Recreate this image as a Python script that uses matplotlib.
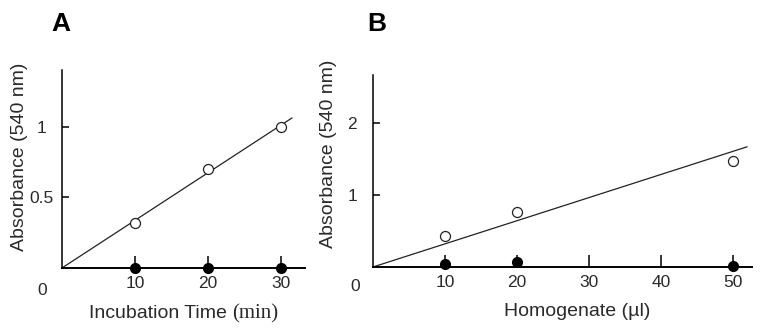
import numpy as np
import matplotlib.pyplot as plt

plt.rcParams['font.family'] = ['Liberation Sans', 'DejaVu Sans']

# Panel A data
time_min = [10, 20, 30]
abs_a_open = [0.32, 0.70, 1.00]
abs_a_closed = [0.0, 0.0, 0.0]
fit_a_x = [0, 31.5]
fit_a_y = [0, 1.06]

# Panel B data
homog_ul = [10, 20, 50]
abs_b_open = [0.43, 0.76, 1.48]
abs_b_closed = [0.04, 0.07, 0.02]
fit_b_x = [0, 51.9]
fit_b_y = [0, 1.67]

txt = '#2a2a2a'

fig = plt.figure(figsize=(7.6, 3.3), dpi=100)
axA = fig.add_axes([0.0816, 0.188, 0.3197, 0.60])
axB = fig.add_axes([0.4908, 0.191, 0.4987, 0.582])

for ax in (axA, axB):
    ax.spines['top'].set_visible(False)
    ax.spines['right'].set_visible(False)
    ax.spines['left'].set_linewidth(1.1)
    ax.spines['bottom'].set_linewidth(1.4)
    ax.tick_params(axis='x', direction='in', length=9, width=1.1, pad=6,
                   labelsize=12.5, labelcolor=txt)
    ax.tick_params(axis='y', direction='in', length=5, width=1.1, pad=15,
                   labelsize=12.5, labelcolor=txt)

# --- A ---
axA.plot(fit_a_x, fit_a_y, color='#222222', lw=0.9)
axA.plot(time_min, abs_a_open, 'o', mfc='white', mec='#222222', ms=7.2, mew=0.9)
axA.plot(time_min, abs_a_closed, 'o', color='black', ms=7, clip_on=False, zorder=5)
axA.set_xlim(0, 33.3)
axA.set_ylim(0, 1.40)
axA.set_xticks([10, 20, 30])
axA.set_yticks([0.5, 1])
axA.set_yticklabels(['0.5', '1'])
axA.set_ylabel('Absorbance (540 nm)', fontsize=14, color=txt)
axA.yaxis.set_label_coords(-0.14, 0.56)
axA.annotate('0', (0, 0), xytext=(-14, -16), textcoords='offset points',
             ha='center', va='center', fontsize=12.5, color=txt)
fig.text(0.305, 0.036, 'Incubation Time ', ha='right', va='baseline',
         fontsize=14, color=txt)
fig.text(0.305, 0.036, '(min)', ha='left', va='baseline', fontsize=15,
         color=txt, family=['Liberation Serif', 'DejaVu Serif'])
fig.text(0.068, 0.905, 'A', fontsize=19, fontweight='bold', color='black')

# --- B ---
axB.plot(fit_b_x, fit_b_y, color='#222222', lw=0.9)
axB.plot(homog_ul, abs_b_open, 'o', mfc='white', mec='#222222', ms=7.2, mew=0.9)
axB.plot(homog_ul, abs_b_closed, 'o', color='black', ms=7, clip_on=False, zorder=5)
axB.set_xlim(0, 52.6)
axB.set_ylim(0, 2.67)
axB.set_xticks([10, 20, 30, 40, 50])
axB.set_yticks([1, 2])
axB.set_ylabel('Absorbance (540 nm)', fontsize=14, color=txt)
axB.yaxis.set_label_coords(-0.095, 0.59)
axB.set_xlabel('Homogenate (µl)', fontsize=14, color=txt)
axB.xaxis.set_label_coords(0.538, -0.19)
axB.annotate('0', (0, 0), xytext=(-13, -14), textcoords='offset points',
             ha='center', va='center', fontsize=12.5, color=txt)
fig.text(0.483, 0.905, 'B', fontsize=19, fontweight='bold', color='black')

# y tick labels sit centred, not right-aligned, in the original
for ax in (axA, axB):
    for lab in ax.get_yticklabels():
        lab.set_horizontalalignment('center')

fig.savefig('out.png', dpi=100)
